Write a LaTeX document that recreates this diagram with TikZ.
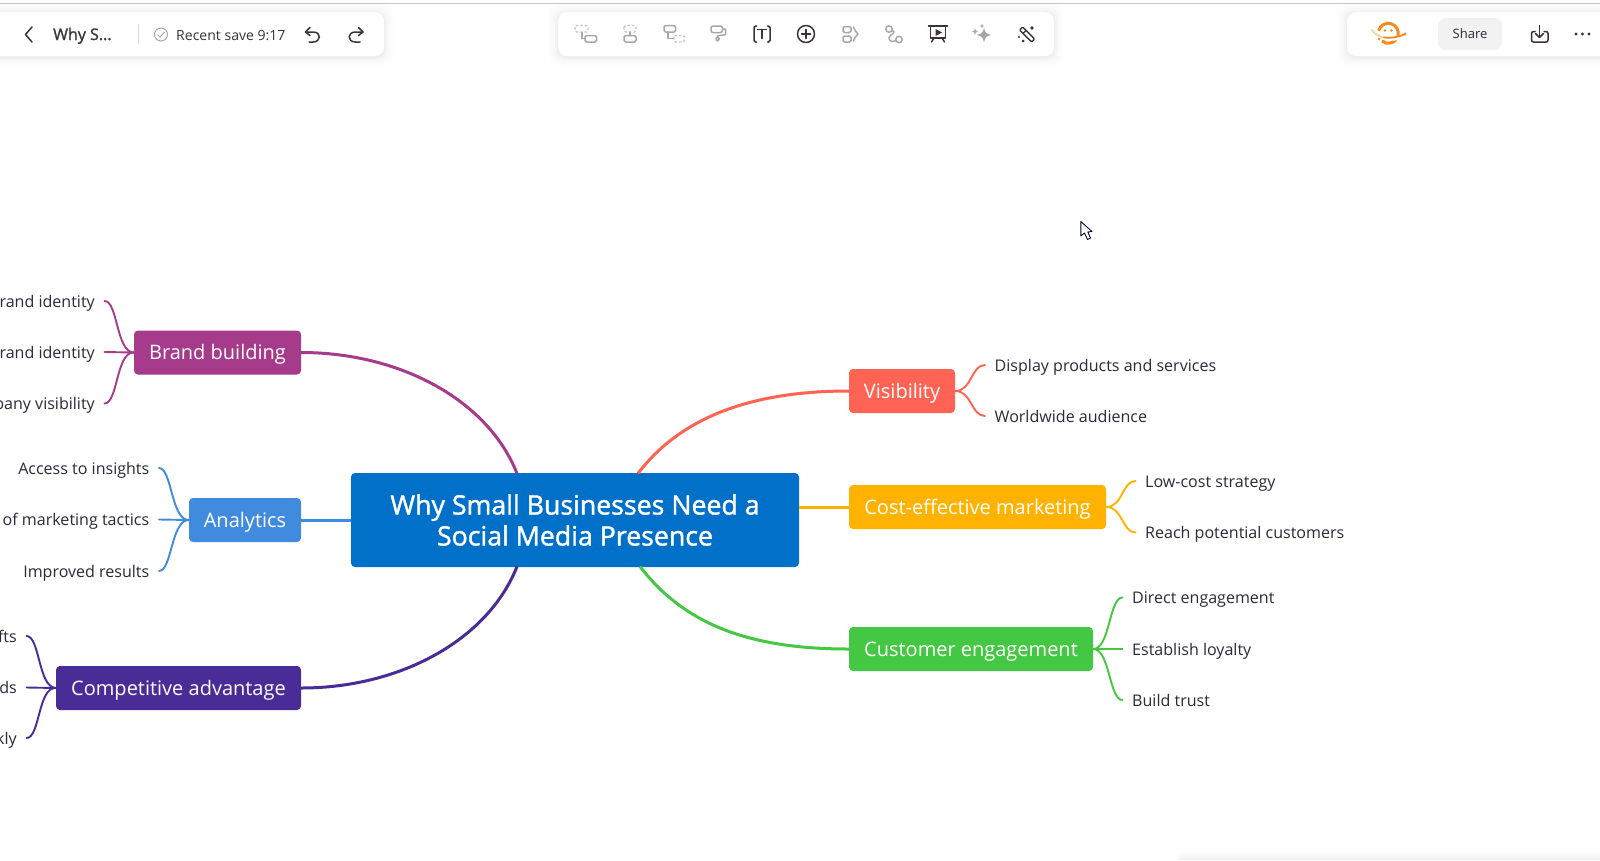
\documentclass[tikz,border=0pt]{standalone}
\usepackage{fontspec}
\setmainfont{Open Sans}
\newfontfamily\semib[FakeBold=1.4]{Open Sans}
\usetikzlibrary{calc}
\definecolor{cCentral}{HTML}{0070C9}
\definecolor{cBrand}{HTML}{A53B8A}
\definecolor{cAna}{HTML}{418BDF}
\definecolor{cComp}{HTML}{4A2C96}
\definecolor{cVis}{HTML}{FF6354}
\definecolor{cCost}{HTML}{FFB300}
\definecolor{cCust}{HTML}{44C742}
\definecolor{cText}{HTML}{2A2A3C}
\definecolor{cIcon}{HTML}{3A3438}
\definecolor{cFaint}{HTML}{A8A6AA}
\definecolor{cOrange}{HTML}{F58A1F}
\tikzset{
  x=1pt,y=-1pt,
  topicbox/.style={fill=#1,rounded corners=4pt,text=white,font=\fontsize{20}{24}\selectfont,inner sep=0pt,align=center,text height=18pt,text depth=4pt},
  leafL/.style={anchor=east,text=cText,font=\fontsize{16.05}{20}\selectfont,inner xsep=9.5pt,inner ysep=0pt,text height=15pt,text depth=3pt},
  leafR/.style={anchor=west,text=cText,font=\fontsize{16.05}{20}\selectfont,inner xsep=9.5pt,inner ysep=0pt,text height=15pt,text depth=3pt},
  mainlink/.style={draw=#1,line width=3pt},
  sublink/.style={draw=#1,line width=1.9pt,line cap=round},
  icondark/.style={draw=cIcon,line width=1.5pt,line cap=round,line join=round},
  iconfaint/.style={draw=cFaint,line width=1.5pt,line cap=round,line join=round},
  iconfaintdash/.style={draw=cFaint!70,line width=1.2pt,dash pattern=on 2.5pt off 2pt},
  uitext/.style={text=cIcon,inner sep=0pt}
}
\newcommand{\softpanel}[4]{%
  \foreach \g/\o in {9/0.006,7/0.008,5/0.010,3/0.014,1.5/0.018}{
    \fill[black,opacity=\o,rounded corners=10pt] (#1-\g,#2-\g+1) rectangle (#3+\g,#4+\g+1);
  }
  \fill[white,rounded corners=9pt] (#1,#2) rectangle (#3,#4);
}
\begin{document}
\begin{tikzpicture}
\useasboundingbox (0,0) rectangle (1600,860);
\fill[white] (0,0) rectangle (1600,860);
\draw[black!22,line width=1.2pt] (0,3.5) -- (1600,3.5);
% bottom-right faint shadow
\foreach \g/\o in {0/0.012,2/0.012,4/0.012,6/0.012}{
  \fill[black,opacity=\o] (1175+\g,858-\g) rectangle (1600,860);
}
% panels
\softpanel{-12}{12}{384}{56}
\softpanel{558}{12}{1054}{56}
\softpanel{1347}{12}{1612}{56}

% left panel
\draw[icondark] (32,27) -- (25.5,34.5) -- (32,42);
\node[uitext,font=\fontsize{16}{19}\semib,anchor=base west] (title) at (53,40) {Why S...};
\draw[black!15,line width=1pt] (138.5,24) -- (138.5,44);
\node[circle,draw=cFaint,line width=1pt,minimum size=13pt,inner sep=0pt] (chk) at (161,34.5) {};
\draw[cFaint,line width=1pt] (157.5,34.5) -- (160,37) -- (164.5,32);
\node[uitext,font=\fontsize{14.05}{18}\selectfont,anchor=base west] (save) at (176,40) {Recent save 9:17};
\draw[icondark] (310,27.5) -- (305.5,32) -- (310,35.5);
\draw[icondark] (306,32) -- (313,32) .. controls (322,32) and (321,42) .. (313,42) -- (309,42);
\draw[icondark] (358.5,27.5) -- (363,32) -- (358.5,35.5);
\draw[icondark] (362.5,32) -- (355.5,32) .. controls (347,32) and (347,42) .. (355.5,42) -- (360,42);

% centre toolbar icons
% 1
\draw[iconfaintdash,rounded corners=1.5pt] (575,25.5) rectangle (588,32);
\draw[iconfaint] (582,32.5) -- (582,38.5) -- (585,38.5);
\draw[iconfaint,rounded corners=1.5pt] (585,35.5) rectangle (596.5,42);
% 2
\draw[iconfaintdash,rounded corners=1.5pt] (624,25.5) rectangle (636,32);
\draw[iconfaint] (630,32) -- (630,35.5);
\draw[iconfaint,rounded corners=1.5pt] (624,35.5) rectangle (636,42);
% 3
\draw[iconfaint,rounded corners=1.5pt] (664,25.5) rectangle (675.5,32);
\draw[iconfaint] (668,32) -- (668,38.5) -- (673,38.5);
\draw[iconfaintdash,rounded corners=1.5pt] (674,35.5) rectangle (684.5,42);
% 4 roller
\draw[iconfaint,rounded corners=2pt] (711,26) rectangle (722.5,32.5);
\draw[iconfaint] (722.5,29) -- (725.5,29) -- (725.5,34.5) -- (717.5,36) -- (717.5,37);
\draw[iconfaint,rounded corners=1.5pt] (716,37) rectangle (719,41);
% 5 [T]
\draw[icondark,rounded corners=1.5pt] (756.5,26) -- (754,26) -- (754,42) -- (756.5,42);
\draw[icondark,rounded corners=1.5pt] (767.5,26) -- (770,26) -- (770,42) -- (767.5,42);
\draw[icondark,line width=1.7pt] (757.5,29.5) -- (766.5,29.5) (762,29.5) -- (762,38.5);
% 6 plus
\draw[icondark] (806,34) circle (8.5);
\draw[icondark] (801.5,34) -- (810.5,34) (806,29.5) -- (806,38.5);
% 7
\draw[iconfaint,rounded corners=1.5pt] (843,26.5) rectangle (851,32.5);
\draw[iconfaint,rounded corners=1.5pt] (843,36) rectangle (851,42);
\draw[iconfaint] (853.5,27) .. controls (855,31) and (856,32) .. (858,34) .. controls (856,36) and (855,37) .. (853.5,41);
% 8 route
\draw[iconfaint] (889,29) circle (3.2);
\draw[iconfaint] (899,39.5) circle (3.2);
\draw[iconfaint] (892,30.5) .. controls (898,33) and (889,34) .. (889,38) .. controls (889,41.5) and (893,42.5) .. (895.8,40.5);
% 9 presentation
\draw[icondark] (928.5,26) -- (947.5,26);
\draw[icondark] (930.5,26) -- (930.5,38) -- (945.5,38) -- (945.5,26);
\fill[cIcon] (935.5,29) -- (942,32.5) -- (935.5,36) -- cycle;
\draw[icondark] (934,38) -- (931.5,42) (942,38) -- (944.5,42);
% 10 sparkles
\fill[cFaint] (984,27.5) .. controls (985,32.5) and (986,33.5) .. (991,35) .. controls (986,36.5) and (985,37.5) .. (984,42.5) .. controls (983,37.5) and (982,36.5) .. (977,35) .. controls (982,33.5) and (983,32.5) .. (984,27.5) -- cycle;
\fill[cFaint] (975,28) .. controls (975.3,30.5) and (975.8,31) .. (978,31.5) .. controls (975.8,32) and (975.3,32.5) .. (975,35) .. controls (974.7,32.5) and (974.2,32) .. (972,31.5) .. controls (974.2,31) and (974.7,30.5) .. (975,28) -- cycle;
\fill[cFaint] (982,24) -- (982.7,25.3) -- (984,26) -- (982.7,26.7) -- (982,28) -- (981.3,26.7) -- (980,26) -- (981.3,25.3) -- cycle;
% 11 wand
\draw[icondark,line width=1.4pt,rounded corners=1pt] (1019.5,30) -- (1022.5,27) -- (1034.5,39) -- (1031.5,42) -- cycle;
\draw[icondark,line width=1.2pt] (1023,33.5) -- (1026,30.5);
\fill[cIcon] (1032,28) circle (1.8);
\fill[cIcon] (1019,37) circle (1.2);
\fill[cIcon] (1023,41) circle (1.5);

% right panel: logo
\draw[cOrange,line width=3pt] (1388.3,33.3) ++(165:10pt) arc[start angle=165,end angle=-130,radius=10pt];
\fill[white] (1371,28) .. controls (1376,38) and (1395,41) .. (1405,34) -- (1405,37) .. controls (1395,44) and (1376,41) .. (1371,31) -- cycle;
\draw[cOrange!40,line width=1.8pt,line cap=round] (1372,30) .. controls (1375,34.5) and (1379,36.5) .. (1384,37.5);
\draw[cOrange,line width=1.8pt,line cap=round] (1384,37.5) .. controls (1391,38.5) and (1399,37) .. (1405,34);
\fill[cOrange] (1385,30.5) circle (1.4) (1391.5,30.5) circle (1.4) (1379,39) circle (1.3) (1405,34) circle (1.7);

\fill[cFaint!15,rounded corners=8pt] (1438,18) rectangle (1502,50);
\node[text=cText,inner sep=0pt,font=\fontsize{13}{16}\selectfont] (share) at (1470,33.5) {Share};
\draw[icondark,rounded corners=2pt] (1535,31.5) -- (1531.5,31.5) -- (1531.5,42) -- (1548,42) -- (1548,31.5) -- (1544,31.5);
\draw[icondark] (1539.5,25.5) -- (1539.5,37);
\draw[icondark] (1535.5,33.5) -- (1539.5,37.5) -- (1543.5,33.5);
\fill[cIcon] (1576,34) circle (1.6) (1582.5,34) circle (1.6) (1589,34) circle (1.6);

% cursor
\draw[black!80!blue,line width=0.9pt,fill=white,line join=round] (1080.8,221.5) -- (1080.8,236) -- (1084.5,233) -- (1087.5,239.5) -- (1090.5,238) -- (1087.8,232) -- (1092,231.5) -- cycle;

% main nodes
\node[fill=cCentral,rounded corners=4pt,text=white,font=\fontsize{26.7}{31}\semib,inner sep=0pt,align=center,minimum width=448pt,minimum height=94pt] (central) at (575,520) {Why Small Businesses Need a\\Social Media Presence};
\node[topicbox=cBrand,minimum width=167pt,minimum height=44pt] (brand) at (217.5,352.5) {Brand building};
\node[topicbox=cAna,minimum width=112pt,minimum height=44pt] (ana) at (245,520) {Analytics};
\node[topicbox=cComp,minimum width=245pt,minimum height=44pt] (comp) at (178.5,688) {Competitive advantage};
\node[topicbox=cVis,minimum width=106pt,minimum height=44pt] (vis) at (902,391) {Visibility};
\node[topicbox=cCost,minimum width=257pt,minimum height=44pt] (cost) at (977.5,507) {Cost-effective marketing};
\node[topicbox=cCust,minimum width=244pt,minimum height=44pt] (cust) at (971,649) {Customer engagement};

% leaves (left)
\node[leafL] (b1) at (104.5,301) {rand identity};
\node[leafL] (b2) at (104.5,352) {rand identity};
\node[leafL] (b3) at (104.5,403.5) {pany visibility};
\node[leafL] (a1) at (159,468) {Access to insights};
\node[leafL] (a2) at (159,519.5) {of marketing tactics};
\node[leafL] (a3) at (159,571) {Improved results};
\node[leafL] (c1) at (26.5,636) {fts};
\node[leafL] (c2) at (26.5,687.5) {ds};
\node[leafL] (c3) at (26.5,738) {kly};
% leaves (right)
\node[leafR] (v1) at (985,365) {Display products and services};
\node[leafR] (v2) at (985,416) {Worldwide audience};
\node[leafR] (k1) at (1135.5,481) {Low-cost strategy};
\node[leafR] (k2) at (1135.5,532.5) {Reach potential customers};
\node[leafR] (u1) at (1122.5,597.5) {Direct engagement};
\node[leafR] (u2) at (1122.5,649) {Establish loyalty};
\node[leafR] (u3) at (1122.5,700) {Build trust};

% main connectors
\coordinate (cBrandEnd) at (517,473.5);
\coordinate (cCompEnd) at (517,566.5);
\coordinate (cVisEnd) at (638,473.5);
\coordinate (cCustEnd) at (640,566.5);
\draw[mainlink=cBrand] (brand.east) .. controls (400,352.5) and (488,400) .. (cBrandEnd);
\draw[mainlink=cAna] (ana.east) -- (central.west);
\draw[mainlink=cComp] (comp.east) .. controls (400,688) and (488,640) .. (cCompEnd);
\draw[mainlink=cVis] (vis.west) .. controls (750,391) and (680,418) .. (cVisEnd);
\draw[mainlink=cCost] (cost.west) -- (central.east |- cost.west);
\draw[mainlink=cCust] (cust.west) .. controls (750,649) and (685,625) .. (cCustEnd);

% sub connectors
\draw[sublink=cBrand] (brand.west) .. controls (116,352) and (118,301) .. (b1.east);
\draw[sublink=cBrand] (brand.west) -- (b2.east);
\draw[sublink=cBrand] (brand.west) .. controls (116,352) and (118,403.5) .. (b3.east);
\draw[sublink=cAna] (ana.west) .. controls (171,520) and (172,468) .. (a1.east);
\draw[sublink=cAna] (ana.west) -- (a2.east);
\draw[sublink=cAna] (ana.west) .. controls (171,520) and (172,571) .. (a3.east);
\draw[sublink=cComp] (comp.west) .. controls (38,687) and (40,636) .. (c1.east);
\draw[sublink=cComp] (comp.west) -- (c2.east);
\draw[sublink=cComp] (comp.west) .. controls (38,687) and (40,738) .. (c3.east);
\draw[sublink=cVis] (vis.east) .. controls (972,391) and (971,365) .. (v1.west);
\draw[sublink=cVis] (vis.east) .. controls (972,391) and (971,416) .. (v2.west);
\draw[sublink=cCost] (cost.east) .. controls (1123,507) and (1122,481) .. (k1.west);
\draw[sublink=cCost] (cost.east) .. controls (1123,507) and (1122,532.5) .. (k2.west);
\draw[sublink=cCust] (cust.east) .. controls (1110,649) and (1109,597.5) .. (u1.west);
\draw[sublink=cCust] (cust.east) -- (u2.west);
\draw[sublink=cCust] (cust.east) .. controls (1110,649) and (1109,700) .. (u3.west);
\end{tikzpicture}
\end{document}
